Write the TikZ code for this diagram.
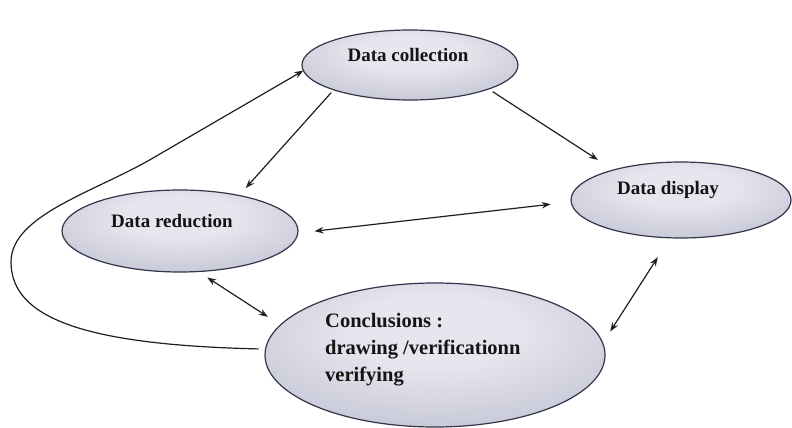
\documentclass[tikz,border=0pt]{standalone}
\usepackage{fontspec}
\setmainfont{Liberation Serif}
\usetikzlibrary{shapes.geometric,arrows.meta}
\definecolor{ellin}{HTML}{E6E6EE}
\definecolor{ellmid}{HTML}{C2C3D3}
\definecolor{ellout}{HTML}{9092A8}
\definecolor{elldraw}{HTML}{34354A}
\pgfdeclareradialshading{ellshade}{\pgfpoint{0bp}{10bp}}{color(0bp)=(ellin); color(12bp)=(ellin); color(36bp)=(ellmid); color(52bp)=(ellout); color(80bp)=(ellout)}
\tikzset{
  stage/.style={ellipse, draw=elldraw, line width=1.2pt, shading=ellshade, inner sep=0pt, outer sep=0pt},
  stagetext/.style={font=\bfseries\fontsize{19}{22}\selectfont, text=black!92, inner sep=0pt},
  link/.style={line width=1.2pt, draw=black!88},
  tip/.style={-{Stealth[length=9pt,width=6.5pt]}},
  tips/.style={{Stealth[length=9pt,width=6.5pt]}-{Stealth[length=9pt,width=6.5pt]}},
}
\begin{document}
\begin{tikzpicture}[x=1pt,y=-1pt]
\useasboundingbox (0,0) rectangle (792,428);
\fill[white] (0,0) rectangle (792,428);
% ellipses
\node[stage, minimum width=216pt, minimum height=70pt] (col) at (410,65) {};
\node[stage, minimum width=236pt, minimum height=82pt] (red) at (180,231) {};
\node[stage, minimum width=220pt, minimum height=76pt] (disp) at (681,200) {};
\node[stage, minimum width=340pt, minimum height=144pt] (conc) at (435,355) {};
% texts
\node[stagetext] (colt) at (408,55) {Data collection};
\node[stagetext] (redt) at (172,221) {Data reduction};
\node[stagetext] (dispt) at (668,190) {Data display};
\node[stagetext, font=\bfseries\fontsize{20.5}{27}\selectfont, align=left, anchor=west] (conct) at (325,350) {Conclusions :\\drawing /verificationn\\verifying};
% connectors
\draw[link,tip,shorten <=5pt,shorten >=18.6pt] (col.-17.3) -- (disp.156.4);
\draw[link,tip,shorten <=3.7pt,shorten >=10pt] (col.198.7) -- (red.31.5);
\draw[link,tips,shorten <=16.7pt,shorten >=20.6pt] (red.-1.95) -- (disp.181.3);
\draw[link,tips,shorten <=11pt,shorten >=15pt] (red.-66) -- (conc.169.2);
\draw[link,tips,shorten <=23pt,shorten >=14pt] (disp.254.6) -- (conc.4.5);
\draw[link,tip,shorten <=7pt] (conc.178) .. controls (90,345) and (11,320) .. (11,262) .. controls (11,215) and (95,192) .. (153,158) -- (col.183);
\end{tikzpicture}
\end{document}
